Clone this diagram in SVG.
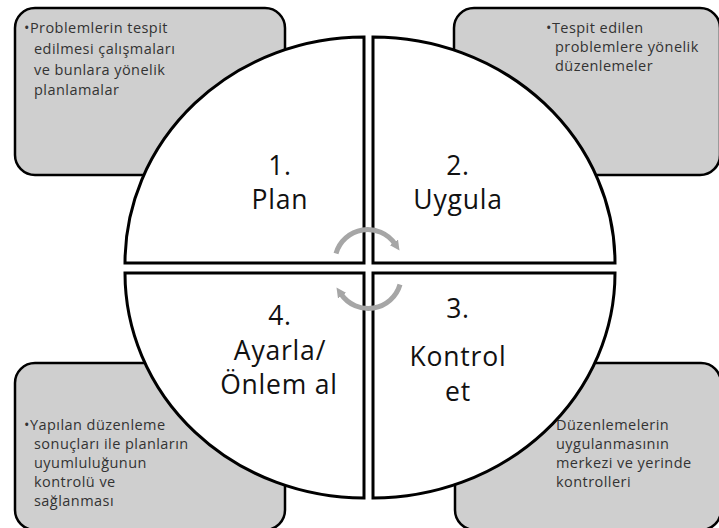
<svg xmlns="http://www.w3.org/2000/svg" width="719" height="528" viewBox="0 0 719 528">
<defs>
<style>
.box{fill:#cfcfcf;stroke:#000;stroke-width:2.5}
.quad{fill:#fff;stroke:#000;stroke-width:3;stroke-linejoin:miter}
.note{font-family:"Open Sans","Noto Sans",sans-serif;font-size:14.5px;fill:#333;letter-spacing:0.45px}
.big{font-family:"Open Sans","Noto Sans",sans-serif;font-size:26.5px;fill:#111;text-anchor:middle;letter-spacing:0.8px}
.cyc{fill:none;stroke:#a6a6a6;stroke-width:5}
</style>
<marker id="ah" viewBox="0 0 10 10" refX="2" refY="5" markerWidth="10" markerHeight="10" markerUnits="userSpaceOnUse" orient="auto">
<path d="M0,0 L10,5 L0,10 Z" fill="#a6a6a6"/>
</marker>
</defs>
<rect width="719" height="528" fill="#fff"/>

<g id="box-plan">
<rect class="box" x="15" y="8" width="270" height="167" rx="20"/>
<text class="note"><tspan x="24" y="33">•Problemlerin tespit</tspan><tspan x="34" y="54">edilmesi çalışmaları</tspan><tspan x="34" y="75">ve bunlara yönelik</tspan><tspan x="34" y="95">planlamalar</tspan></text>
</g>
<g id="box-uygula">
<rect class="box" x="454" y="8" width="266" height="167" rx="20"/>
<text class="note"><tspan x="546" y="33">•Tespit edilen</tspan><tspan x="555" y="52">problemlere yönelik</tspan><tspan x="555" y="71">düzenlemeler</tspan></text>
</g>
<g id="box-ayarla">
<rect class="box" x="15" y="363" width="270" height="167" rx="20"/>
<text class="note"><tspan x="24" y="430">•Yapılan düzenleme</tspan><tspan x="34" y="449">sonuçları ile planların</tspan><tspan x="34" y="468">uyumluluğunun</tspan><tspan x="34" y="487">kontrolü ve</tspan><tspan x="34" y="506">sağlanması</tspan></text>
</g>
<g id="box-kontrol">
<rect class="box" x="455" y="363" width="266" height="167" rx="20"/>
<text class="note"><tspan x="556" y="430">Düzenlemelerin</tspan><tspan x="556" y="449">uygulanmasının</tspan><tspan x="556" y="468">merkezi ve yerinde</tspan><tspan x="556" y="487">kontrolleri</tspan></text>
</g>

<g id="q1-plan">
<path class="quad" d="M364 37 L364 263 L125 263 A239 226 0 0 1 364 37 Z"/>
<text class="big" x="280" y="175">1.</text>
<text class="big" x="280" y="209">Plan</text>
</g>
<g id="q2-uygula">
<path class="quad" d="M373 37 A242 226 0 0 1 615 263 L373 263 Z"/>
<text class="big" x="458" y="175">2.</text>
<text class="big" x="458" y="209">Uygula</text>
</g>
<g id="q3-kontrol">
<path class="quad" d="M373 273 L615 273 A242 225 0 0 1 373 498 Z"/>
<text class="big" x="458" y="318">3.</text>
<text class="big" x="458" y="366">Kontrol</text>
<text class="big" x="458" y="401">et</text>
</g>
<g id="q4-ayarla">
<path class="quad" d="M125 273 L364 273 L364 498 A239 225 0 0 1 125 273 Z"/>
<text class="big" x="280" y="325">4.</text>
<text class="big" x="280" y="360">Ayarla/</text>
<text class="big" x="279" y="394">Önlem al</text>
</g>

<g id="connectors">
<path class="cyc" d="M336 253.5 A33 33 0 0 1 395 244" marker-end="url(#ah)"/>
<path class="cyc" d="M400 284.5 A33 33 0 0 1 341 294" marker-end="url(#ah)"/>
</g>
</svg>
